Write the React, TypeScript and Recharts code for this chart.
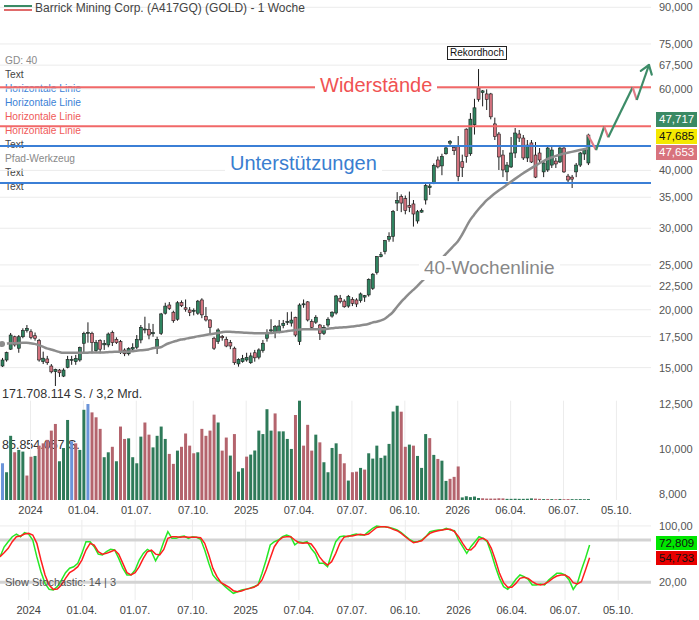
import React from 'react';
import { ComposedChart, Bar, Line, XAxis, YAxis, CartesianGrid, ReferenceLine, Cell } from 'recharts';

// weekly candles, week 0 = first week of 2024, chart starts mid Nov 2023
const FIRST_WEEK = -7;
const LAST_AXIS_WEEK = 152; // empty room on the right for the projection

const open = [
  15.12, 15.58, 16.44, 17.49, 16.52, 17.49, 18.03, 17.93, 17.58, 17.15,
  15.45, 15.66, 15.12, 14.70, 14.82, 14.38, 15.02, 15.60, 15.45, 15.58,
  16.93, 17.85, 17.79, 16.32, 17.15, 16.80, 16.79, 17.86, 17.27, 17.07,
  16.37, 16.07, 16.45, 16.60, 17.21, 18.12, 18.15, 17.75, 16.50, 17.79,
  19.66, 20.48, 19.76, 19.08, 20.74, 20.20, 19.98, 19.85, 19.66, 21.00,
  19.35, 19.01, 17.36, 17.07, 17.50, 17.27, 16.98, 16.52, 15.28, 15.45,
  15.58, 15.37, 16.15, 15.80, 16.32, 17.36, 18.00, 17.86, 17.93, 18.48,
  18.80, 18.72, 19.27, 17.07, 20.50, 20.80, 18.87, 18.80, 18.54, 17.79,
  18.54, 19.38, 19.68, 21.18, 20.88, 20.37, 21.07, 21.00, 20.93, 21.30,
  21.53, 22.25, 24.07, 26.05, 26.70, 28.40, 28.80, 34.00, 35.10, 34.75,
  33.60, 33.85, 31.10, 32.50, 34.52, 36.70, 37.50, 42.12, 40.90, 43.45,
  45.80, 44.86, 45.00, 41.76, 49.10, 43.45, 50.20, 60.25, 58.90, 58.50,
  58.50, 50.40, 47.92, 43.17, 39.70, 40.68, 43.61, 47.93, 46.98, 42.55,
  45.85, 43.17, 43.61, 39.70, 40.08, 41.07, 41.90, 41.70, 44.70, 38.87,
  38.68, 39.70, 41.07, 43.40, 41.50,
];
const high = [
  15.74, 16.24, 17.82, 17.58, 17.64, 18.24, 18.54, 18.15, 17.86, 17.30,
  16.24, 15.90, 15.27, 14.92, 14.90, 14.95, 15.90, 15.90, 15.98, 16.65,
  17.93, 18.79, 17.93, 17.21, 17.27, 17.21, 17.86, 18.03, 17.44, 17.21,
  16.51, 16.60, 16.93, 17.64, 18.54, 19.32, 18.70, 18.64, 17.49, 19.69,
  20.71, 20.78, 19.91, 20.88, 20.95, 21.05, 20.27, 20.14, 21.00, 21.18,
  20.27, 19.08, 17.49, 18.24, 17.64, 17.49, 17.21, 16.65, 15.71, 15.98,
  16.15, 16.16, 16.38, 16.51, 17.21, 18.15, 19.08, 18.54, 19.01, 19.01,
  19.76, 19.81, 19.32, 20.65, 21.05, 20.88, 19.08, 19.47, 18.64, 18.54,
  19.27, 19.85, 21.53, 21.53, 21.07, 21.53, 21.29, 21.18, 21.79, 21.53,
  23.38, 23.99, 26.13, 26.66, 28.30, 29.40, 32.85, 35.90, 35.50, 35.30,
  36.00, 34.52, 32.85, 33.10, 37.60, 37.60, 41.40, 42.85, 43.45, 45.30,
  46.50, 45.37, 47.45, 43.25, 49.30, 53.20, 57.10, 66.20, 59.65, 59.85,
  58.80, 52.00, 48.41, 44.26, 41.70, 47.22, 49.39, 48.90, 47.69, 46.52,
  46.52, 46.06, 44.70, 42.12, 45.37, 44.92, 42.55, 44.92, 44.92, 39.30,
  39.10, 41.50, 43.83, 44.70, 48.00,
];
const low = [
  15.05, 15.45, 16.38, 16.65, 16.15, 17.36, 17.86, 17.27, 17.15, 15.45,
  15.27, 15.21, 14.58, 13.69, 14.32, 14.31, 14.95, 15.21, 15.21, 15.45,
  16.15, 16.98, 16.10, 16.15, 16.10, 16.38, 16.60, 16.70, 16.87, 16.05,
  15.88, 15.93, 16.32, 16.44, 16.93, 17.79, 17.27, 17.49, 16.05, 17.64,
  19.53, 19.98, 18.75, 18.94, 20.27, 19.81, 19.38, 19.45, 19.50, 19.18,
  18.87, 17.64, 16.38, 16.87, 17.15, 16.60, 16.44, 15.21, 15.07, 15.37,
  15.45, 15.28, 15.45, 15.63, 16.16, 17.07, 17.86, 17.36, 17.79, 18.24,
  18.54, 18.40, 17.49, 16.79, 20.20, 18.87, 18.09, 18.64, 17.21, 17.64,
  18.37, 19.23, 19.53, 20.65, 20.20, 20.20, 20.37, 20.27, 20.72, 20.80,
  21.35, 22.07, 23.83, 25.95, 26.35, 28.05, 28.05, 32.68, 32.50, 32.15,
  32.50, 30.25, 30.70, 32.40, 33.75, 35.40, 37.35, 40.40, 39.05, 43.25,
  45.30, 43.17, 37.90, 38.70, 41.55, 43.00, 47.80, 56.30, 55.00, 54.01,
  51.55, 46.52, 40.08, 38.68, 37.94, 40.48, 42.55, 46.06, 42.12, 41.70,
  41.50, 38.49, 41.50, 38.68, 39.70, 40.48, 40.48, 41.50, 39.50, 37.75,
  36.64, 38.68, 40.68, 42.12, 41.07,
];
const close = [
  15.58, 16.16, 17.64, 16.79, 17.49, 18.03, 18.24, 17.44, 17.36, 15.58,
  15.72, 15.37, 14.69, 14.87, 14.62, 14.82, 15.63, 15.63, 15.70, 16.57,
  17.79, 17.88, 16.98, 16.98, 16.44, 16.92, 17.73, 16.98, 16.98, 16.15,
  16.07, 16.48, 16.58, 17.27, 18.33, 18.18, 17.64, 17.85, 17.27, 19.59,
  20.37, 20.14, 18.94, 20.71, 20.40, 20.05, 19.72, 19.95, 20.88, 19.50,
  19.01, 18.33, 16.52, 18.09, 17.40, 16.70, 16.70, 15.37, 15.63, 15.71,
  15.79, 15.90, 15.75, 16.38, 16.93, 17.79, 18.10, 18.40, 18.45, 18.70,
  18.86, 19.00, 17.64, 20.48, 20.60, 19.01, 18.33, 19.27, 17.79, 18.33,
  19.08, 19.76, 21.42, 20.82, 20.30, 21.38, 20.65, 20.58, 21.64, 21.45,
  23.27, 23.87, 26.04, 26.30, 28.20, 28.80, 32.63, 34.45, 34.00, 32.75,
  33.30, 32.20, 32.57, 32.80, 37.10, 37.00, 41.00, 40.70, 42.85, 44.73,
  46.15, 44.11, 38.84, 40.60, 42.90, 51.60, 54.60, 56.95, 59.40, 56.95,
  52.20, 47.30, 42.76, 40.08, 41.07, 43.61, 48.17, 46.98, 42.55, 45.37,
  41.70, 38.68, 42.12, 41.50, 44.70, 44.26, 41.30, 44.70, 39.70, 38.13,
  38.30, 41.07, 43.61, 44.26, 47.685,
];

// volume in million shares
const volumeMio = [
  63.5, 48, 111, 82.5, 86.6, 83.7, 42.3, 75, 76.2, 94,
  98, 104, 120, 131.5, 67, 90, 138.4, 101.5, 98, 86.6,
  156, 166, 151.5, 143, 123, 74, 82.5, 92, 67, 127,
  105.6, 106.6, 74, 63.5, 109.6, 134, 113, 91, 111, 127,
  105.6, 79.7, 62.5, 85.4, 92, 115, 94, 80.8, 82.5, 123,
  111, 120, 147.6, 134, 85.4, 108, 76.8, 114, 49, 55,
  75, 78.5, 85.4, 120, 114, 157, 120, 149.7, 118.7, 118.7,
  105.6, 88.3, 147, 171.708114, 94, 130, 85.4, 113, 99.7, 65.3,
  48, 90, 98, 79.7, 63.5, 33.6, 48, 49, 55.5, 52.6,
  80.8, 71.6, 94, 72.8, 76.8, 97, 153, 163, 152.7, 92,
  95.8, 94, 76.2, 55.5, 114, 107, 78, 71, 68, 33,
  36.6, 40, 58, 4.5, 6.5, 5.0, 6.0, 3.5, 3.0, 2.5,
  2.5, 2.5, 3.0, 2.8, 2.0, 2.0, 2.2, 2.0, 2.0, 2.2,
  2.8, 2.4, 2.0, 1.6, 1.8, 1.6, 1.4, 1.8, 1.4, 1.6,
  1.5, 1.4, 1.6, 1.4, 1.6,
];
// u = up volume, d = down volume, n = neutral
const volumeSide = (
  'nuuduuddud' + 'dddduuundu' + 'unddduudud' + 'duuuudduuu' + 'udduddddud' +
  'dddudduduu' + 'duuuuuuduu' + 'uududddudu' + 'uuudduddud' + 'uuuuuuuudd' +
  'uduuududuu' + 'ddduuuuudd' + 'dddduuuuuu' + 'uddudududd' + 'uuuuu'
).split('');

const sma40 = [
  16.87, 16.90, 16.93, 16.93, 16.95, 16.97, 16.98, 16.93, 16.88, 16.78,
  16.65, 16.51, 16.42, 16.32, 16.22, 16.15, 16.15, 16.15, 16.15, 16.15,
  16.16, 16.16, 16.17, 16.17, 16.18, 16.18, 16.20, 16.22, 16.23, 16.24,
  16.24, 16.24, 16.27, 16.32, 16.35, 16.37, 16.42, 16.51, 16.56, 16.60,
  16.78, 16.93, 17.05, 17.15, 17.25, 17.30, 17.38, 17.45, 17.52, 17.58,
  17.64, 17.70, 17.76, 17.82, 17.88, 17.93, 17.92, 17.90, 17.88, 17.86,
  17.84, 17.82, 17.80, 17.79, 17.79, 17.80, 17.82, 17.86, 17.90, 17.93,
  17.98, 18.03, 18.08, 18.12, 18.15, 18.15, 18.15, 18.15, 18.15, 18.16,
  18.20, 18.24, 18.28, 18.31, 18.33, 18.36, 18.40, 18.45, 18.50, 18.56,
  18.64, 18.76, 18.85, 18.95, 19.10, 19.40, 19.75, 20.25, 20.75, 21.20,
  21.65, 22.05, 22.47, 22.95, 23.40, 23.90, 24.50, 25.10, 25.75, 26.35,
  26.90, 27.50, 28.10, 29.00, 30.10, 31.20, 32.05, 32.90, 33.65, 34.40,
  35.00, 35.60, 36.15, 36.65, 37.20, 37.75, 38.30, 38.85, 39.40, 39.90,
  40.40, 40.90, 41.40, 41.85, 42.30, 42.65, 42.95, 43.20, 43.45, 43.65,
  43.85, 44.05, 44.25, 44.45, 44.64,
];

const stochK = [
  56, 70, 77.6, 84.7, 88.5, 84.7, 90.4, 88.5, 80, 56,
  35, 18.6, 10, 9, 13.8, 23, 33.6, 40, 42, 47,
  61, 77.6, 77.6, 70.5, 60, 58.7, 63.4, 66.8, 65.8, 54,
  40, 30.4, 30.4, 37.4, 51.6, 61, 66.8, 63.4, 50.6, 61,
  77.6, 91.8, 82.4, 82.4, 84.7, 85.7, 82.4, 84.7, 83.8, 81,
  65.8, 47, 30.4, 23.3, 19.5, 13.8, 9, 4.4, 6.7, 9,
  10, 11.5, 13.8, 16.2, 32.8, 51.6, 73, 77.6, 80, 84.7,
  87, 84.7, 73, 77.6, 76, 77.6, 68, 61, 47, 47,
  42, 61, 77.6, 84.7, 85.7, 84.7, 87.1, 88.5, 87, 87,
  91.8, 96.5, 99.8, 98.9, 98.9, 97.9, 96.5, 94.2, 90.4, 85.7,
  81, 77.6, 77.6, 80, 84.7, 91.8, 93.2, 94.2, 94.2, 96.5,
  94.2, 93.2, 80, 70.5, 61.1, 70.5, 77.6, 84.7, 82.4, 77.6,
  61.1, 42.2, 25.6, 13.8, 10, 16.2, 24.2, 30.4, 28, 24.2,
  16.2, 16.2, 17.6, 16.2, 23.3, 28, 32.7, 32.7, 30.4, 23.3,
  10, 18.5, 37.4, 54, 72.809,
];
const stochD = [
  56.4, 62, 68.2, 77.6, 84.7, 85.7, 88.5, 89.5, 87.1, 75.3,
  51.6, 30.4, 16.2, 10, 10.5, 16.2, 25.6, 33.7, 37.4, 42.2,
  51.6, 65.8, 75.3, 72.9, 63.4, 60, 61.1, 63.4, 65.8, 60,
  46.9, 33.7, 30.4, 33.7, 42.2, 54, 63.4, 65.8, 60, 58.7,
  66.7, 82.4, 84.7, 84.7, 83.8, 84.7, 83.8, 83.8, 83.8, 83.3,
  75.3, 58.7, 39.8, 28, 19.5, 16.2, 12.9, 8.1, 6.7, 7.7,
  10, 11.4, 12.9, 16.2, 23.3, 37.4, 54, 70.5, 79, 83.8,
  84.7, 84.7, 80, 76.2, 75.3, 76.2, 74.4, 66.7, 56.4, 49.3,
  44.5, 49.3, 61.1, 75.3, 83.8, 85.7, 85.7, 87, 88, 87,
  88.5, 93.2, 97.9, 98.9, 98.9, 97.9, 95.1, 93.2, 89.5, 84.7,
  80, 76.2, 77.6, 79, 84.7, 89.5, 91.8, 93.2, 94.2, 95.1,
  95.1, 91.8, 84.7, 75.3, 66.7, 65.8, 71.5, 81, 82.4, 79,
  68.2, 51.6, 32.7, 19.5, 12.9, 12.9, 18.5, 25.6, 27, 25.6,
  20.9, 17.6, 16.2, 17.6, 20.9, 25.6, 28.9, 30.4, 30.4, 27,
  19.5, 17.6, 20.9, 37.4, 54.733,
];

const dateWeeks = [0, 13, 26, 40, 53, 66, 79, 92, 105, 118, 131, 144];
const dateLabels = ['2024', '01.04.', '01.07.', '07.10.', '2025', '07.04.', '07.07.', '06.10.', '2026', '06.04.', '06.07.', '05.10.'];
const priceTicks = [8, 10, 12.5, 15, 17.5, 20, 22.5, 25, 30, 35, 40, 60, 67.5, 75, 90];
const stochTicks = [20, 100];
const stochBands = [20, 80];
const stochGrid = [50, 100];

const resistanceLevels = [60.46, 49.8];
const supportLevels = [45.15, 37.56];

// drawn projection path (Pfad-Werkzeug)
const pathWeeks = [137, 139, 141, 142, 148, 149, 152];
const pathPrices = [47.685, 44.26, 49.71, 47.15, 60.46, 56.76, 67.55];

const askPrice = 47.717;
const lastPrice = 47.685;
const bidPrice = 47.653;

const toolNames = ['GD: 40', 'Text', 'Horizontale Linie', 'Horizontale Linie', 'Horizontale Linie', 'Horizontale Linie', 'Text', 'Pfad-Werkzeug', 'Text', 'Text'];
const toolColors = ['#8a8a8a', '#444', '#3b7fd6', '#3b7fd6', '#f05a5a', '#f05a5a', '#444', '#8a8a8a', '#444', '#444'];

const FONT = '"Liberation Sans", Arial, sans-serif';
const UP = '#2f8460';
const DOWN = '#d3727e';
const sideColor: Record<string, string> = { u: '#2e7a59', d: '#b4646d', n: '#6b94d9' };

const fmtDec = (v: number, d: number) => v.toFixed(d).replace('.', ',');
const fmtShares = (n: number) => Math.round(n).toString().replace(/\B(?=(\d{3})+(?!\d))/g, '.');

const maxVol = Math.max(...volumeMio) * 1e6;

const data = (() => {
  const rows: any[] = [];
  for (let w = FIRST_WEEK; w <= LAST_AXIS_WEEK; w++) {
    const i = w - FIRST_WEEK;
    const row: any = { w };
    if (i < close.length) {
      row.open = open[i];
      row.high = high[i];
      row.low = low[i];
      row.close = close[i];
      row.range = [low[i], high[i]];
      row.vol = volumeMio[i] * 1e6;
      row.side = volumeSide[i];
      row.sma = sma40[i];
      row.k = stochK[i];
      row.d = stochD[i];
    }
    rows.push(row);
  }
  for (let j = 0; j < pathWeeks.length - 1; j++) {
    rows[pathWeeks[j] - FIRST_WEEK]['seg' + j] = pathPrices[j];
    rows[pathWeeks[j + 1] - FIRST_WEEK]['seg' + j] = pathPrices[j + 1];
  }
  return rows;
})();

const Candle = (props: any) => {
  const { x, y, width, height, payload } = props;
  if (!payload || payload.open == null || !isFinite(y) || !isFinite(height)) return <g />;
  const { open: o, close: c, high: h, low: l } = payload;
  const span = Math.log(h) - Math.log(l) || 1;
  // log axis: position is linear in log(price) between the high and low ends of the bar
  const yOf = (v: number) => y + ((Math.log(h) - Math.log(v)) / span) * height;
  const cx = x + width / 2;
  const top = yOf(Math.max(o, c));
  const bot = yOf(Math.min(o, c));
  return (
    <g>
      <line x1={cx} x2={cx} y1={y} y2={y + height} stroke="#1b1b1b" strokeWidth={1} />
      <rect x={x} y={top} width={width} height={Math.max(bot - top, 1)} fill={c >= o ? UP : DOWN} stroke="#1b1b1b" strokeWidth={0.6} />
    </g>
  );
};

const ArrowHead = (props: any) => {
  const { cx, cy, index, points, payload } = props;
  if (cx == null || cy == null || !payload || payload.w !== pathWeeks[pathWeeks.length - 1]) return <g key={'a' + index} />;
  const prevs = (points || []).filter((p: any) => p && p.y != null && p.x < cx - 0.5);
  const prev = prevs.length ? prevs[prevs.length - 1] : { x: cx - 12, y: cy + 35 };
  const len = Math.hypot(cx - prev.x, cy - prev.y) || 1;
  const bx = (prev.x - cx) / len;
  const by = (prev.y - cy) / len;
  const ang = 0.62;
  const L = 10;
  const r = (a: number) => ({ x: cx + L * (bx * Math.cos(a) - by * Math.sin(a)), y: cy + L * (bx * Math.sin(a) + by * Math.cos(a)) });
  const a1 = r(ang);
  const a2 = r(-ang);
  return (
    <g key={'a' + index}>
      <line x1={cx} y1={cy} x2={a1.x} y2={a1.y} stroke="#3d8c68" strokeWidth={2.2} strokeLinecap="round" />
      <line x1={cx} y1={cy} x2={a2.x} y2={a2.y} stroke="#3d8c68" strokeWidth={2.2} strokeLinecap="round" />
    </g>
  );
};

const abs = (left: number, top: number, extra: React.CSSProperties = {}): React.CSSProperties => ({ position: 'absolute', left, top, ...extra });

export default function App() {
  const axisTick = { fill: '#444', fontSize: 11, fontFamily: FONT };
  return (
    <div style={{ position: 'absolute', left: 0, top: 0, width: 699, height: 620, background: '#fff', overflow: 'hidden', fontFamily: FONT }}>
      {/* drawing tool list on the left */}
      {toolNames.map((t, i) => (
        <div key={i} style={abs(5, 53.7 + i * 14, { fontSize: 10.2, lineHeight: '14px', color: toolColors[i], whiteSpace: 'nowrap' })}>{t}</div>
      ))}

      {/* price panel */}
      <div style={abs(0, 0)}>
        <ComposedChart width={699} height={500} data={data} margin={{ top: 0, right: 0, bottom: 0, left: 0 }}>
          <CartesianGrid stroke="#ebebeb" verticalValues={dateWeeks} horizontalValues={priceTicks} />
          <XAxis dataKey="w" type="category" ticks={dateWeeks} interval={0} height={0} tick={false} axisLine={false} tickLine={false} />
          <YAxis
            orientation="right"
            type="number"
            scale="log"
            domain={[7.766, 93.33]}
            allowDataOverflow
            ticks={priceTicks}
            interval={0}
            width={48}
            tick={{ fill: '#555', fontSize: 11, fontFamily: FONT }}
            tickFormatter={(v: number) => fmtDec(v, 3)}
            axisLine={false}
            tickLine={false}
          />
          {resistanceLevels.map((v) => (
            <ReferenceLine key={'r' + v} y={v} stroke="#f16868" strokeWidth={2} />
          ))}
          {supportLevels.map((v) => (
            <ReferenceLine key={'s' + v} y={v} stroke="#3b7fd6" strokeWidth={2} />
          ))}
          <Line dataKey="sma" type="monotone" stroke="#8c8c8c" strokeWidth={2.5} dot={false} isAnimationActive={false} />
          <Bar dataKey="range" barSize={3} shape={Candle} isAnimationActive={false} />
          {pathWeeks.slice(0, -1).map((_, j) => (
            <Line
              key={'seg' + j}
              dataKey={'seg' + j}
              type="linear"
              connectNulls
              stroke={j % 2 === 0 ? '#e07c87' : '#3d8c68'}
              strokeWidth={2.2}
              dot={j === pathWeeks.length - 2 ? ArrowHead : false}
              isAnimationActive={false}
            />
          ))}
        </ComposedChart>
      </div>

      {/* title + legend icon */}
      <div style={abs(4, 4.5, { width: 28, height: 2, background: '#3a8a64' })} />
      <div style={abs(4, 9, { width: 28, height: 2, background: '#e06a6a' })} />
      <div style={abs(35, 1, { fontSize: 12, lineHeight: '14px', color: '#444', whiteSpace: 'nowrap' })}>
        Barrick Mining Corp. (A417GQ) (GOLD) - 1 Woche
      </div>

      {/* text annotations */}
      <div style={abs(315, 73, { fontSize: 20, lineHeight: '24px', padding: '0 5px', background: '#fff', color: '#f05252', whiteSpace: 'nowrap' })}>Widerstände</div>
      <div style={abs(225, 151, { fontSize: 20, lineHeight: '24px', padding: '0 5px', background: '#fff', color: '#3a7ed0', whiteSpace: 'nowrap' })}>Unterstützungen</div>
      <div style={abs(419, 256, { fontSize: 19, lineHeight: '24px', padding: '0 5px', background: '#fff', color: '#888', whiteSpace: 'nowrap' })}>40-Wochenlinie</div>
      <div style={abs(447, 46, { width: 58, height: 12, border: '1px solid #222', background: '#fff', fontSize: 10, lineHeight: '12px', textAlign: 'center', color: '#111' })}>Rekordhoch</div>

      {/* quote boxes */}
      <div style={abs(656, 111.5, { width: 41, height: 15, background: '#3a8a64', color: '#fff', fontSize: 11.5, lineHeight: '15px', paddingLeft: 3, boxSizing: 'border-box' })}>{fmtDec(askPrice, 3)}</div>
      <div style={abs(656, 128.5, { width: 41, height: 15, background: '#f4e800', color: '#111', fontSize: 11.5, lineHeight: '15px', paddingLeft: 3, boxSizing: 'border-box' })}>{fmtDec(lastPrice, 3)}</div>
      <div style={abs(656, 144.5, { width: 41, height: 15, background: '#d8737d', color: '#fff', fontSize: 11.5, lineHeight: '15px', paddingLeft: 3, boxSizing: 'border-box' })}>{fmtDec(bidPrice, 3)}</div>

      {/* volume panel */}
      <div style={abs(2, 386, { fontSize: 12.5, lineHeight: '16px', color: '#333', whiteSpace: 'nowrap' })}>{fmtShares(maxVol)} S. / 3,2 Mrd.</div>
      <div style={abs(0, 400, { width: 651, height: 100, background: '#fff' })} />
      <div style={abs(2, 437, { fontSize: 12.5, lineHeight: '16px', color: '#333', whiteSpace: 'nowrap' })}>{fmtShares(maxVol / 2)} S.</div>
      <div style={abs(0, 400)}>
        <ComposedChart width={699} height={120} data={data} margin={{ top: 0.7, right: 0, bottom: 0, left: 0 }}>
          <CartesianGrid stroke="#ececec" horizontal={false} verticalValues={dateWeeks} />
          <CartesianGrid stroke="#d2d2d2" strokeWidth={1.5} vertical={false} horizontalValues={[maxVol / 2, maxVol]} />
          <XAxis
            dataKey="w"
            type="category"
            ticks={dateWeeks}
            interval={0}
            height={20}
            tickSize={4}
            tickMargin={2}
            tick={axisTick}
            tickFormatter={(w: number) => dateLabels[dateWeeks.indexOf(w)] ?? ''}
            axisLine={false}
            tickLine={false}
          />
          <YAxis orientation="right" type="number" domain={[0, maxVol]} ticks={[maxVol / 2, maxVol]} width={48} tick={false} axisLine={false} tickLine={false} />
          <Bar dataKey="vol" barSize={3} isAnimationActive={false}>
            {data.map((d) => (
              <Cell key={d.w} fill={sideColor[d.side] ?? 'transparent'} />
            ))}
          </Bar>
        </ComposedChart>
      </div>

      {/* stochastic panel */}
      <div style={abs(0, 520)}>
        <ComposedChart width={699} height={100} data={data} margin={{ top: 0, right: 0, bottom: 0, left: 0 }}>
          <CartesianGrid stroke="#ececec" verticalValues={dateWeeks} horizontalValues={stochGrid} />
          <CartesianGrid stroke="#d3d3d3" strokeWidth={3} vertical={false} horizontalValues={stochBands} />
          <XAxis
            dataKey="w"
            type="category"
            ticks={dateWeeks}
            interval={0}
            height={20}
            tickSize={4}
            tickMargin={2.5}
            tick={axisTick}
            tickFormatter={(w: number) => dateLabels[dateWeeks.indexOf(w)] ?? ''}
            axisLine={false}
            tickLine={false}
          />
          <YAxis
            orientation="right"
            type="number"
            domain={[-5.1, 108.4]}
            allowDataOverflow
            ticks={stochTicks}
            interval={0}
            width={48}
            tick={{ fill: '#555', fontSize: 11, fontFamily: FONT }}
            tickFormatter={(v: number) => fmtDec(v, 2)}
            axisLine={false}
            tickLine={false}
          />
          <Line dataKey="k" type="linear" stroke="#27e827" strokeWidth={1.5} dot={false} isAnimationActive={false} />
          <Line dataKey="d" type="linear" stroke="#ff1f1f" strokeWidth={1.5} dot={false} isAnimationActive={false} />
        </ComposedChart>
      </div>
      <div style={abs(5, 575, { fontSize: 11, lineHeight: '14px', color: '#555', whiteSpace: 'nowrap' })}>Slow Stochastic: 14 | 3</div>
      <div style={abs(656, 536, { width: 41, height: 14, background: '#00e600', color: '#111', fontSize: 11.5, lineHeight: '14px', paddingLeft: 3, boxSizing: 'border-box' })}>{fmtDec(stochK[stochK.length - 1], 3)}</div>
      <div style={abs(656, 551, { width: 41, height: 14, background: '#e80000', color: '#111', fontSize: 11.5, lineHeight: '14px', paddingLeft: 3, boxSizing: 'border-box' })}>{fmtDec(stochD[stochD.length - 1], 3)}</div>
    </div>
  );
}
